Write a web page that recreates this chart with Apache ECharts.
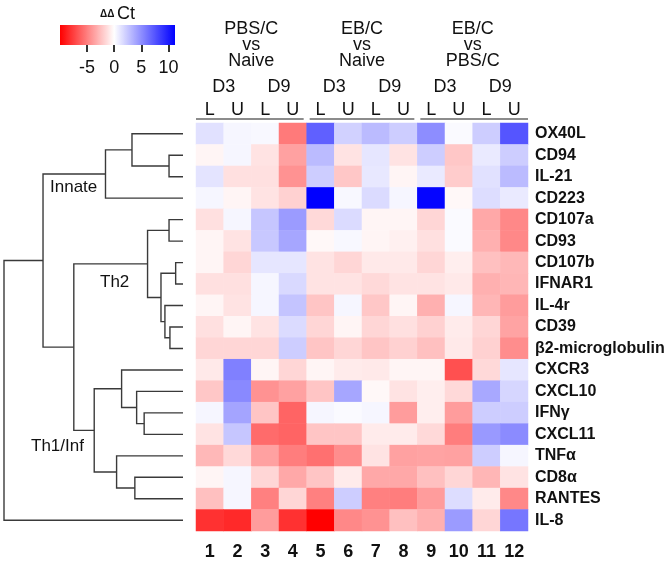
<!DOCTYPE html>
<html><head><meta charset="utf-8">
<script src="https://cdn.jsdelivr.net/npm/echarts@6/dist/echarts.min.js"></script>
<style>html,body{margin:0;padding:0;background:#fff}#c{width:672px;height:563px}</style>
</head><body><div id="c"></div>
<script>
const genes = ['OX40L','CD94','IL-21','CD223','CD107a','CD93','CD107b','IFNAR1','IL-4r','CD39','β2-microglobulin','CXCR3','CXCL10','IFNγ','CXCL11','TNFα','CD8α','RANTES','IL-8'];
const columns = ['1','2','3','4','5','6','7','8','9','10','11','12'];
const luLabels = ['L','U','L','U','L','U','L','U','L','U','L','U'];
const dayLabels = ['D3','D9','D3','D9','D3','D9'];
const groupLabels = ['PBS/C\nvs\nNaive','EB/C\nvs\nNaive','EB/C\nvs\nPBS/C'];
const legendTicks = [-5, 0, 5, 10];
const legendRange = [-10, 11.2];

const values = [
  [1.3, 0.4, 0.3, -5.2, 7.0, 2.0, 3.0, 2.2, 5.0, 0.2, 2.2, 7.5],
  [-0.4, 0.4, -1.1, -3.7, 3.0, -1.1, 1.1, -1.1, 2.2, -2.2, 0.9, 2.2],
  [1.2, -1.2, -1.2, -4.3, 2.2, -2.2, 1.0, -0.4, 0.9, -2.0, 1.3, 3.0],
  [0.4, -0.4, -1.1, -1.8, 11.2, 0.3, 1.6, 0.4, 11.0, -0.3, 1.5, 0.9],
  [-1.2, 0.4, 2.5, 4.4, -1.5, 1.6, -0.4, -0.4, -1.6, 0.2, -3.4, -4.7],
  [-0.4, -1.1, 2.4, 3.9, -0.3, 0.3, -0.4, -0.6, -1.2, 0.2, -3.1, -4.7],
  [-0.4, -1.6, 1.1, 1.1, -1.1, -1.6, -0.9, -0.9, -1.6, -0.7, -2.5, -2.8],
  [-1.2, -1.2, 0.4, 1.7, -1.1, -1.1, -1.5, -1.1, -1.1, -0.9, -3.1, -2.9],
  [-0.4, -1.1, 0.4, 2.6, -2.3, 0.4, -2.2, -0.4, -3.1, 0.4, -2.9, -3.9],
  [-1.2, -0.4, -1.1, 1.6, -1.6, -0.4, -1.6, -1.2, -1.8, -0.8, -1.6, -3.6],
  [-1.6, -1.6, -1.6, 2.2, -2.3, -1.6, -2.3, -1.8, -2.5, -0.9, -1.8, -4.5],
  [-0.9, 5.6, -0.4, -1.6, -0.4, -0.8, -0.9, -0.4, -0.4, -6.9, -1.5, 1.1],
  [-2.2, 5.2, -4.3, -3.7, -2.3, 3.9, -0.3, -1.1, -0.7, -1.5, 3.8, 1.8],
  [0.4, 4.0, -2.3, -6.1, 0.4, 0.2, 0.4, -3.9, -0.7, -3.9, 2.2, 2.2],
  [-1.1, 2.5, -5.8, -6.1, -2.3, -2.3, -0.8, -0.8, -1.5, -5.1, 4.5, 5.1],
  [-2.8, -1.5, -3.7, -5.1, -5.6, -4.5, -1.1, -3.7, -3.6, -3.7, 2.2, 0.4],
  [-0.4, 0.4, -1.6, -3.4, -2.3, -0.8, -3.4, -3.4, -2.5, -1.6, -2.9, -1.1],
  [-2.5, 0.4, -5.0, -1.6, -5.0, 2.2, -5.0, -5.1, -3.9, 1.5, -0.8, -4.7],
  [-8.1, -8.4, -3.9, -8.1, -10.0, -4.7, -4.3, -2.5, -3.1, 4.4, -1.6, 6.0]
];

// dendrogram linkage: [childA, childB, height]; leaves 0..18, merged clusters 19+
const merges = [
  [1, 2, 0.78], [0, 19, 2.85], [20, 3, 4.33],
  [4, 5, 0.78], [6, 7, 0.41], [9, 10, 0.73], [8, 24, 1.01], [23, 25, 1.23], [22, 26, 1.98],
  [13, 14, 2.17], [12, 28, 2.59], [11, 29, 3.43], [16, 17, 2.69], [15, 31, 3.71], [30, 32, 4.96],
  [27, 33, 6.10], [21, 34, 7.82], [35, 18, 10.0]
];
const clusterNames = ['Innate', 'Th2', 'Th1/Inf'];

const FONT = 'Liberation Sans, Arial, Helvetica, sans-serif';

function colorAt(v) {
  let r, g, b;
  if (v < 0) { const t = Math.min(1, -v / 10); r = 255; g = b = Math.round(255 * (1 - t)); }
  else { const t = Math.min(1, v / 11.2); r = g = Math.round(255 * (1 - t)); b = 255; }
  return 'rgb(' + r + ',' + g + ',' + b + ')';
}
const stopVals = [];
for (let i = 0; i <= 106; i++) stopVals.push(+(legendRange[0] + i * 0.2).toFixed(2));
const stopColors = stopVals.map(colorAt);

const heatData = [];
values.forEach((row, r) => row.forEach((v, c) => heatData.push([c, r, v])));

const nLeaf = genes.length;
const nodeY = [], nodeH = [];
for (let i = 0; i < nLeaf; i++) { nodeY[i] = i; nodeH[i] = 0; }
const links = merges.map(([a, b, h], k) => {
  const id = nLeaf + k;
  nodeY[id] = (nodeY[a] + nodeY[b]) / 2; nodeH[id] = h;
  return { coords: [[nodeH[a], nodeY[a]], [h, nodeY[a]], [h, nodeY[b]], [nodeH[b], nodeY[b]]] };
});

const chart = echarts.init(document.getElementById('c'), null, { renderer: 'canvas' });
const hidden = { show: false };
const topAxis = (data, offset, size, lh) => ({
  type: 'category', gridIndex: 0, position: 'top', offset: offset, data: data,
  axisLine: hidden, axisTick: hidden, splitLine: hidden,
  axisLabel: { color: '#111', fontSize: size, fontFamily: FONT, margin: 3, lineHeight: lh, interval: 0 }
});

chart.setOption({
  animation: false,
  backgroundColor: '#fff',
  grid: [
    { left: 196, top: 123, width: 332, height: 408 },
    { left: 4, top: 123, width: 179, height: 408 },
    { left: 60, top: 25, width: 115, height: 20 }
  ],
  xAxis: [
    { type: 'category', gridIndex: 0, position: 'bottom', data: columns,
      axisLine: hidden, axisTick: hidden, splitLine: hidden,
      axisLabel: { color: '#111', fontSize: 18, fontWeight: 'bold', fontFamily: FONT, margin: 12 } },
    topAxis(luLabels, 0, 18, 20),
    topAxis(dayLabels, 23, 18, 20),
    topAxis(groupLabels, 51, 18, 16),
    { type: 'value', gridIndex: 1, min: 0, max: 10, inverse: true, show: false },
    { type: 'value', gridIndex: 2, min: legendRange[0], max: legendRange[1], position: 'bottom',
      axisLine: hidden, splitLine: hidden,
      axisTick: { show: true, length: 7, customValues: legendTicks, lineStyle: { color: '#333', width: 2 } },
      axisLabel: { show: true, customValues: legendTicks, color: '#111', fontSize: 18, fontFamily: FONT, margin: 14 } }
  ],
  yAxis: [
    { type: 'category', gridIndex: 0, position: 'right', inverse: true, data: genes,
      axisLine: hidden, axisTick: hidden, splitLine: hidden,
      axisLabel: { color: '#111', fontSize: 16, fontWeight: 'bold', fontFamily: FONT, margin: 7, interval: 0 } },
    { type: 'value', gridIndex: 1, min: -0.5, max: nLeaf - 0.5, inverse: true, show: false },
    { type: 'value', gridIndex: 2, min: 0, max: 1, show: false }
  ],
  visualMap: {
    show: false, type: 'continuous', seriesIndex: 0, dimension: 2,
    min: legendRange[0], max: legendRange[1], inRange: { color: stopColors }
  },
  series: [
    { type: 'heatmap', xAxisIndex: 0, yAxisIndex: 0, data: heatData, itemStyle: { borderWidth: 0 } },
    { type: 'lines', coordinateSystem: 'cartesian2d', xAxisIndex: 4, yAxisIndex: 1, polyline: true,
      data: links, lineStyle: { color: '#3a3a3a', width: 1.4, opacity: 1 }, silent: true },
    { type: 'custom', xAxisIndex: 5, yAxisIndex: 2, data: [legendRange], silent: true,
      renderItem: function (params, api) {
        const p0 = api.coord([api.value(0), 1]);
        const p1 = api.coord([api.value(1), 0]);
        const stops = stopVals.map((v, i) => ({ offset: (v - legendRange[0]) / (legendRange[1] - legendRange[0]), color: stopColors[i] }));
        return { type: 'rect', shape: { x: p0[0], y: p0[1], width: p1[0] - p0[0], height: p1[1] - p0[1] },
          style: { fill: new echarts.graphic.LinearGradient(0, 0, 1, 0, stops) } };
      } }
  ]
});

// group underlines, placed from the category axis scale
const cw = 332 / columns.length;
const lineY = 119;
const graphics = groupLabels.map((g, i) => {
  const xl = chart.convertToPixel({ xAxisIndex: 0 }, columns[4 * i]) - cw / 2 + (i > 0 ? 3 : 0);
  const xr = chart.convertToPixel({ xAxisIndex: 0 }, columns[4 * i + 3]) + cw / 2 - (i < 2 ? 3 : 0);
  return { type: 'line', shape: { x1: xl, y1: lineY, x2: xr, y2: lineY }, style: { stroke: '#666', lineWidth: 1.6 } };
});
graphics.push(
  { type: 'text', left: 50, top: 179, style: { text: clusterNames[0], fontSize: 17, fontFamily: FONT, fill: '#111' } },
  { type: 'text', left: 100, top: 274, style: { text: clusterNames[1], fontSize: 17, fontFamily: FONT, fill: '#111' } },
  { type: 'text', left: 31, top: 438, style: { text: clusterNames[2], fontSize: 17, fontFamily: FONT, fill: '#111' } },
  { type: 'text', left: 100, top: 9, style: { text: 'ΔΔ', fontSize: 10, fontWeight: 'bold', fontFamily: FONT, fill: '#111' } },
  { type: 'text', left: 117, top: 5, style: { text: 'Ct', fontSize: 18, fontFamily: FONT, fill: '#111' } }
);
chart.setOption({ graphic: graphics });
</script>
</body></html>
